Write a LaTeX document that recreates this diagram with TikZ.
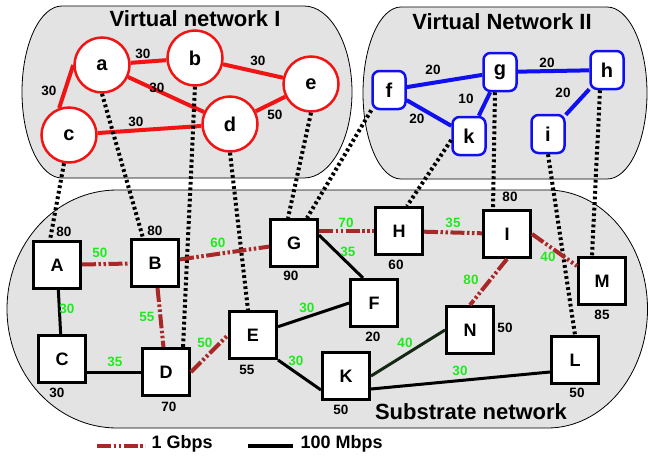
\documentclass[tikz,border=0pt]{standalone}
\usepackage{fontspec}
\setmainfont{Liberation Sans}
\definecolor{boxgrey}{RGB}{227,227,227}
\definecolor{gbred}{RGB}{168,40,40}
\definecolor{vnred}{RGB}{240,20,20}
\definecolor{vnblue}{RGB}{15,15,240}
\definecolor{bwgreen}{RGB}{30,235,30}
\definecolor{darklink}{RGB}{20,40,20}

\begin{document}
\begin{tikzpicture}[x=1pt,y=-1pt,font=\bfseries,
  sub/.style={draw,line width=3pt,fill=white,minimum size=47pt,inner sep=0pt,font=\fontsize{18}{18}\selectfont\bfseries},
  vone/.style={circle,draw=vnred,line width=2.5pt,fill=white,minimum size=55pt,inner sep=0pt,font=\fontsize{20}{20}\selectfont\bfseries},
  vtwo/.style={rectangle,rounded corners=7pt,draw=vnblue,line width=2.5pt,fill=white,minimum width=33pt,minimum height=38pt,inner sep=0pt,font=\fontsize{20}{20}\selectfont\bfseries},
  gig/.style={gbred,line width=4pt,dash pattern=on 14pt off 2.5pt on 2.5pt off 2.5pt on 2.5pt off 2.5pt},
  meg/.style={black,line width=3pt},
  map/.style={black,line width=4pt,dash pattern=on 2.8pt off 2.8pt},
  bw/.style={text=bwgreen,font=\fontsize{13.5}{13.5}\selectfont\bfseries},
  num/.style={font=\fontsize{13.5}{13.5}\selectfont\bfseries},
  nettitle/.style={font=\fontsize{22}{22}\selectfont\bfseries},
  netbox/.style={draw,fill=boxgrey,line width=0.8pt}]
  \useasboundingbox (0,0) rectangle (649,456);

  % network boxes
  \draw[netbox] (62,6) -- (304,6) arc[start angle=90,end angle=-90,x radius=48pt,y radius=86pt]
    -- (62,178) arc[start angle=270,end angle=90,x radius=40pt,y radius=86pt] -- cycle;
  \draw[netbox] (401,7) -- (607,7) arc[start angle=90,end angle=-90,x radius=40pt,y radius=86pt]
    -- (401,179) arc[start angle=270,end angle=90,x radius=38pt,y radius=86pt] -- cycle;
  \draw[netbox] (117,190) -- (547.5,190) arc[start angle=90,end angle=-90,x radius=100pt,y radius=119pt]
    -- (117,428) arc[start angle=270,end angle=90,x radius=110pt,y radius=119pt] -- cycle;
  \node[nettitle] (tone) at (195,19) {Virtual network I};
  \node[nettitle] (ttwo) at (502,22) {Virtual Network II};
  \node[nettitle] (tsub) at (471,412) {Substrate network};

  % virtual network I
  \node[vone] (a) at (102,65) {a};
  \node[vone] (b) at (195,58) {b};
  \node[vone] (c) at (69,135) {c};
  \node[vone] (d) at (230,124) {d};
  \node[vone] (e) at (311,84) {e};

  % virtual network II
  \node[vtwo] (f) at (389,90) {f};
  \node[vtwo] (g) at (500,72) {g};
  \node[vtwo] (h) at (607,70) {h};
  \node[vtwo] (k) at (469,136) {k};
  \node[vtwo] (i) at (548,134) {i};

  % substrate network
  \node[sub] (A) at (57,265) {A};
  \node[sub] (B) at (155,263) {B};
  \node[sub] (C) at (62,359) {C};
  \node[sub] (D) at (166,372) {D};
  \node[sub] (E) at (253,335) {E};
  \node[sub] (F) at (374,303) {F};
  \node[sub] (G) at (294,243) {G};
  \node[sub] (H) at (399,231) {H};
  \node[sub] (I) at (507,234) {I};
  \node[sub] (K) at (346,376) {K};
  \node[sub] (L) at (575,360) {L};
  \node[sub] (M) at (602,281) {M};
  \node[sub] (N) at (470,330) {N};

  % node capacities
  \node[num] (capA) at (64,232) {80};
  \node[num] (capB) at (155,231) {80};
  \node[num] (capC) at (57,393) {30};
  \node[num] (capD) at (169,407) {70};
  \node[num] (capE) at (247,370) {55};
  \node[num] (capF) at (373,337) {20};
  \node[num] (capG) at (291,276) {90};
  \node[num] (capH) at (396,265) {60};
  \node[num] (capI) at (510,197) {80};
  \node[num] (capK) at (341,410) {50};
  \node[num] (capL) at (577,393) {50};
  \node[num] (capM) at (602,315) {85};
  \node[num] (capN) at (505,328) {50};

  % virtual links
  \draw[vnred,line width=4pt] (a) -- (b);
  \draw[vnred,line width=4pt] (b) -- (e);
  \draw[vnred,line width=4pt] (a) -- (d);
  \draw[vnred,line width=4pt] (a.west) -- (c.110);
  \draw[vnred,line width=4pt] (c) -- (d);
  \draw[vnred,line width=4pt] (d) -- (e);
  \draw[vnblue,line width=4pt] (f) -- (g);
  \draw[vnblue,line width=4pt] (g) -- (h);
  \draw[vnblue,line width=4pt] (f) -- (k);
  \draw[vnblue,line width=4pt] (g) -- (k);
  \draw[vnblue,line width=4pt] (h) -- (i);
  \node[num] (lab) at (143,54) {30};
  \node[num] (lbe) at (258,61) {30};
  \node[num] (lad) at (157,88) {30};
  \node[num] (lac) at (49,91) {30};
  \node[num] (lcd) at (136,122) {30};
  \node[num] (lde) at (275,115) {50};
  \node[num] (lfg) at (433,70) {20};
  \node[num] (lgh) at (547,63) {20};
  \node[num] (lfk) at (417,119) {20};
  \node[num] (lgk) at (466,99) {10};
  \node[num] (lhi) at (563,93) {20};

  % mappings
  \draw[map] (c.260) -- ([xshift=-7pt]A.north);
  \draw[map] (a.south) -- ([xshift=-12pt]B.north);
  \draw[map] (b.south) -- ([xshift=17pt]D.north);
  \draw[map] (d.south) -- ([xshift=-5pt]E.north);
  \draw[map] (e.south) -- ([xshift=-6pt]G.north);
  \draw[map] (f.south west) -- ([xshift=13pt]G.north);
  \draw[map] ([yshift=-4pt]k.west) -- ([xshift=8pt]H.north);
  \draw[map] ([xshift=-5pt]g.south) -- ([xshift=-14pt]I.north);
  \draw[map] (i.south) -- (L.north);
  \draw[map] ([xshift=-7pt]h.south) -- ([xshift=-10pt]M.north);

  % substrate links
  \draw[gig] (A) -- (B);
  \draw[meg] (A) -- (C);
  \draw[gig] (B) -- (D);
  \draw[gig] (B) -- (G);
  \draw[meg] (C.east |- D) -- (D.west);
  \draw[gig] (D.east) -- (E.west);
  \draw[meg] (E) -- (F.west);
  \draw[meg] (E.south east) -- ([yshift=-14pt]K.west);
  \draw[gig] (G.east |- H) -- (H.west);
  \draw[meg] ([yshift=8pt]G.east) -- ([xshift=-11pt]F.north);
  \draw[gig] (H) -- (I);
  \draw[gig] (I.south) -- (N.north);
  \draw[gig] (I.east) -- ([yshift=15pt]M.west);
  \draw[darklink,line width=3pt] (K.east) -- (N.west);
  \draw[meg] ([yshift=-13pt]K.east) -- ([yshift=-12pt]L.west);
  \node[bw] (lAB) at (100,253) {50};
  \node[bw] (lAC) at (67,309) {30};
  \node[bw] (lBD) at (147,317) {55};
  \node[bw] (lBG) at (218,243) {60};
  \node[bw] (lCD) at (115,362) {35};
  \node[bw] (lDE) at (205,343) {50};
  \node[bw] (lEF) at (307,308) {30};
  \node[bw] (lEK) at (296,361) {30};
  \node[bw] (lGH) at (346,223) {70};
  \node[bw] (lGF) at (348,252) {35};
  \node[bw] (lHI) at (453,223) {35};
  \node[bw] (lIN) at (471,280) {80};
  \node[bw] (lIM) at (548,257) {40};
  \node[bw] (lKN) at (405,343) {40};
  \node[bw] (lKL) at (460,371) {30};

  % legend
  \coordinate (gbs) at (97,446);
  \coordinate (gbe) at (145,446);
  \coordinate (mbs) at (248,446);
  \coordinate (mbe) at (293,446);
  \draw[gig] (gbs) -- (gbe);
  \draw[meg,line width=4pt] (mbs) -- (mbe);
  \node[font=\fontsize{18}{18}\selectfont\bfseries,anchor=west] (lgb) at (148,444) {1 Gbps};
  \node[font=\fontsize{18}{18}\selectfont\bfseries,anchor=west] (lmb) at (297,444) {100 Mbps};
\end{tikzpicture}
\end{document}
